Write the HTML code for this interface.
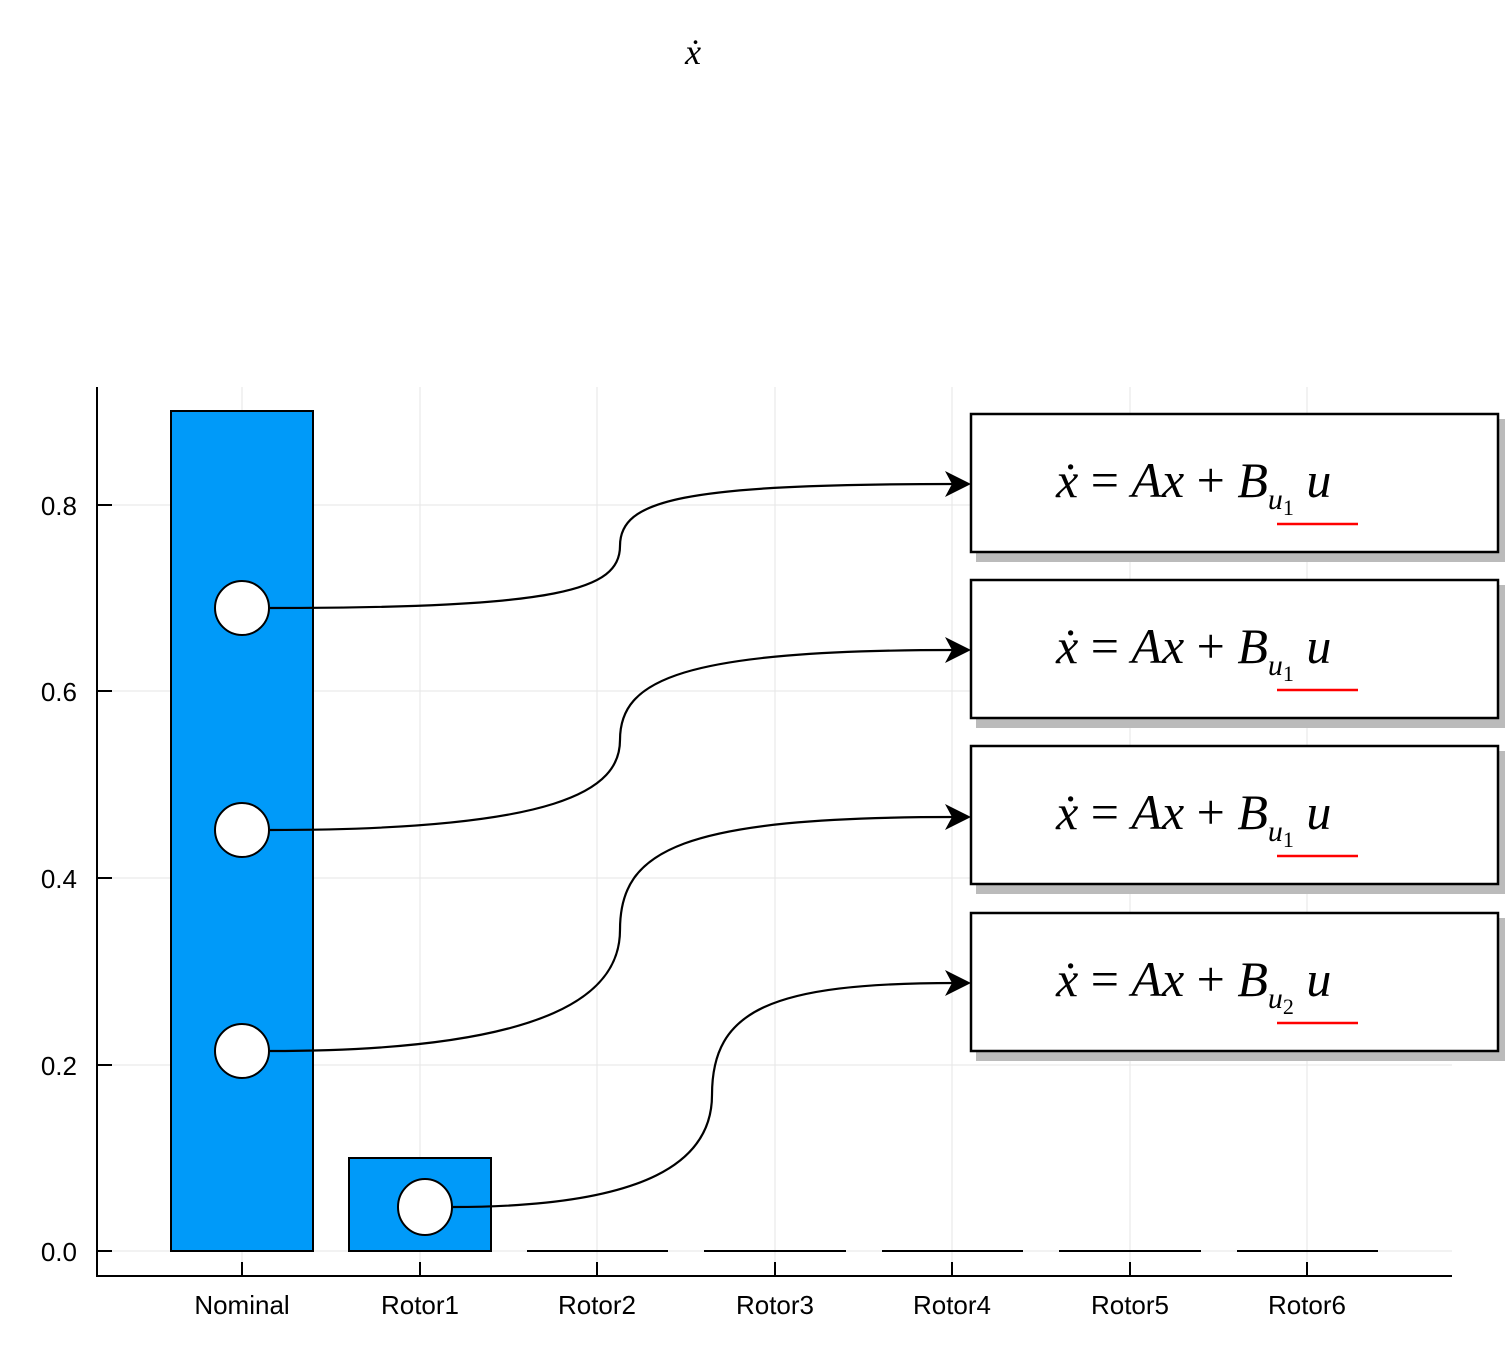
<!DOCTYPE html>
<html><head><style>body{margin:0;background:#fff}svg{display:block}</style></head><body>
<svg width="1508" height="1350" xmlns="http://www.w3.org/2000/svg" font-family="Liberation Sans, sans-serif">
<text x="693" y="64" font-family="Liberation Serif, serif" font-style="italic" font-size="36" text-anchor="middle">ẋ</text>
<g stroke="#e6e6e6" stroke-width="1">
<line x1="242" y1="387" x2="242" y2="1276"/><line x1="420" y1="387" x2="420" y2="1276"/><line x1="597" y1="387" x2="597" y2="1276"/><line x1="775" y1="387" x2="775" y2="1276"/><line x1="952" y1="387" x2="952" y2="1276"/><line x1="1130" y1="387" x2="1130" y2="1276"/><line x1="1307" y1="387" x2="1307" y2="1276"/>
<line x1="97" y1="505" x2="1452" y2="505"/><line x1="97" y1="691" x2="1452" y2="691"/><line x1="97" y1="878" x2="1452" y2="878"/><line x1="97" y1="1065" x2="1452" y2="1065"/><line x1="97" y1="1251" x2="1452" y2="1251"/>
</g>
<g stroke="#000" stroke-width="2" fill="none">
<line x1="97" y1="387" x2="97" y2="1277"/><line x1="96" y1="1276" x2="1452" y2="1276"/>
<line x1="97" y1="505" x2="112" y2="505"/><line x1="97" y1="691" x2="112" y2="691"/><line x1="97" y1="878" x2="112" y2="878"/><line x1="97" y1="1065" x2="112" y2="1065"/><line x1="97" y1="1251" x2="112" y2="1251"/>
<line x1="242" y1="1276" x2="242" y2="1262"/><line x1="420" y1="1276" x2="420" y2="1262"/><line x1="597" y1="1276" x2="597" y2="1262"/><line x1="775" y1="1276" x2="775" y2="1262"/><line x1="952" y1="1276" x2="952" y2="1262"/><line x1="1130" y1="1276" x2="1130" y2="1262"/><line x1="1307" y1="1276" x2="1307" y2="1262"/>
<line x1="527" y1="1251" x2="668" y2="1251"/><line x1="704" y1="1251" x2="846" y2="1251"/><line x1="882" y1="1251" x2="1023" y2="1251"/><line x1="1059" y1="1251" x2="1201" y2="1251"/><line x1="1237" y1="1251" x2="1378" y2="1251"/>
</g>
<g font-size="26" text-anchor="end"><text x="77" y="515">0.8</text><text x="77" y="701">0.6</text><text x="77" y="888">0.4</text><text x="77" y="1075">0.2</text><text x="77" y="1261">0.0</text></g>
<g font-size="26" text-anchor="middle"><text x="242" y="1314">Nominal</text><text x="420" y="1314">Rotor1</text><text x="597" y="1314">Rotor2</text><text x="775" y="1314">Rotor3</text><text x="952" y="1314">Rotor4</text><text x="1130" y="1314">Rotor5</text><text x="1307" y="1314">Rotor6</text></g>
<rect x="171" y="411" width="142" height="840" fill="#009af9" stroke="#000" stroke-width="2"/>
<rect x="349" y="1158" width="142" height="93" fill="#009af9" stroke="#000" stroke-width="2"/>
<g stroke="#000" stroke-width="2.2" fill="none">
<path d="M270,608 C560,608 620,590 620,546 C620,500 680,484 955,484"/>
<path d="M270,830 C560,830 620,790 620,740 C620,680 680,650 955,650"/>
<path d="M270,1051 C560,1051 620,990 620,930 C620,850 680,817 955,817"/>
<path d="M453,1207 C650,1207 712,1160 712,1095 C712,1010 770,983 955,983"/>
</g>
<g fill="#000"><path d="M971,484 L945,471 L952,484 L945,497Z"/><path d="M971,650 L945,637 L952,650 L945,663Z"/><path d="M971,817 L945,804 L952,817 L945,830Z"/><path d="M971,983 L945,970 L952,983 L945,996Z"/></g>
<g fill="#fff" stroke="#000" stroke-width="2"><circle cx="242" cy="608" r="27"/><circle cx="242" cy="830" r="27"/><circle cx="242" cy="1051" r="27"/><ellipse cx="425" cy="1207" rx="27" ry="28"/></g>
<g font-family="Liberation Serif, serif" font-size="50">
<g transform="translate(0,0)"><rect x="976" y="419" width="529" height="143" fill="#bbb"/><rect x="971" y="414" width="527" height="138" fill="#fff" stroke="#000" stroke-width="2.5"/><text x="1056" y="497"><tspan font-style="italic">ẋ</tspan> = <tspan font-style="italic">Ax</tspan> + <tspan font-style="italic">B</tspan><tspan font-style="italic" font-size="30" dy="12">u</tspan><tspan font-size="22" dy="6">1</tspan><tspan font-style="italic" dy="-18"> u</tspan></text><line x1="1277" y1="524" x2="1358" y2="524" stroke="#f00" stroke-width="2.5"/></g>
<g transform="translate(0,166)"><rect x="976" y="419" width="529" height="143" fill="#bbb"/><rect x="971" y="414" width="527" height="138" fill="#fff" stroke="#000" stroke-width="2.5"/><text x="1056" y="497"><tspan font-style="italic">ẋ</tspan> = <tspan font-style="italic">Ax</tspan> + <tspan font-style="italic">B</tspan><tspan font-style="italic" font-size="30" dy="12">u</tspan><tspan font-size="22" dy="6">1</tspan><tspan font-style="italic" dy="-18"> u</tspan></text><line x1="1277" y1="524" x2="1358" y2="524" stroke="#f00" stroke-width="2.5"/></g>
<g transform="translate(0,332)"><rect x="976" y="419" width="529" height="143" fill="#bbb"/><rect x="971" y="414" width="527" height="138" fill="#fff" stroke="#000" stroke-width="2.5"/><text x="1056" y="497"><tspan font-style="italic">ẋ</tspan> = <tspan font-style="italic">Ax</tspan> + <tspan font-style="italic">B</tspan><tspan font-style="italic" font-size="30" dy="12">u</tspan><tspan font-size="22" dy="6">1</tspan><tspan font-style="italic" dy="-18"> u</tspan></text><line x1="1277" y1="524" x2="1358" y2="524" stroke="#f00" stroke-width="2.5"/></g>
<g transform="translate(0,499)"><rect x="976" y="419" width="529" height="143" fill="#bbb"/><rect x="971" y="414" width="527" height="138" fill="#fff" stroke="#000" stroke-width="2.5"/><text x="1056" y="497"><tspan font-style="italic">ẋ</tspan> = <tspan font-style="italic">Ax</tspan> + <tspan font-style="italic">B</tspan><tspan font-style="italic" font-size="30" dy="12">u</tspan><tspan font-size="22" dy="6">2</tspan><tspan font-style="italic" dy="-18"> u</tspan></text><line x1="1277" y1="524" x2="1358" y2="524" stroke="#f00" stroke-width="2.5"/></g>
</g>
</svg>
</body></html>
